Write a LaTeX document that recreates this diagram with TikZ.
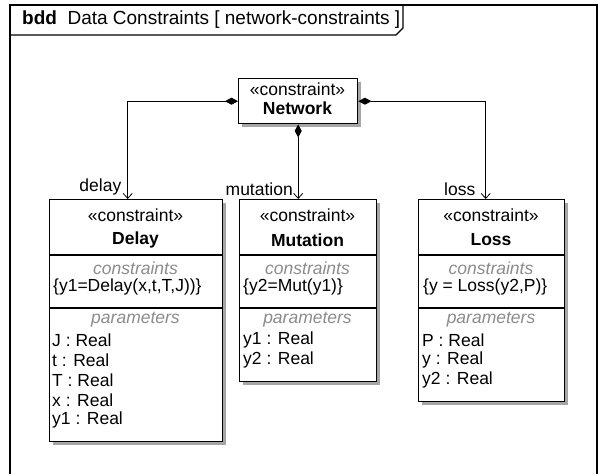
\documentclass[tikz,border=0pt]{standalone}
\usepackage{fontspec}
\setmainfont{Liberation Sans}
\usetikzlibrary{arrows.meta,positioning,shadows}

\tikzset{
  block/.style={draw, line width=1.4pt, fill=white, inner sep=0pt, anchor=north west,
    drop shadow={shadow xshift=3pt, shadow yshift=-3pt, fill=black!35, opacity=1}},
  compart/.style={line width=1.2pt},
  head/.style={font=\fontsize{17.5}{20}\selectfont\itshape, text=black!45},
  item/.style={anchor=west, inner sep=0pt},
  comp/.style={line width=0.8pt, {Diamond[length=13pt,width=7pt]}-{Straight Barb[length=5pt,width=9pt]}},
}

\begin{document}
\begin{tikzpicture}[x=1pt,y=-1pt, every node/.style={font=\fontsize{17.5}{20}\selectfont}]
\useasboundingbox (0,0) rectangle (601,474);

% frame
\draw[line width=1.2pt] (10,474) -- (10,5) -- (597,5) -- (597,474);
\draw[line width=1.2pt] (10,35) -- (396,35) -- (403,28) -- (403,5);
\node[anchor=west, inner sep=0pt, font=\fontsize{19}{20}\selectfont] (title) at (22,20) {\textbf{bdd}\ \ Data Constraints [ network-constraints ]};

% network
\node[block, minimum width=119pt, minimum height=45pt] (net) at (238,78) {};
\node (netst) at (297.5,89) {«constraint»};
\node[font=\fontsize{17.5}{20}\selectfont\bfseries] (netname) at (297.5,108) {Network};

% delay
\node[block, minimum width=173pt, minimum height=242pt] (delay) at (49,199) {};
\node (delayst) at (135.5,215) {«constraint»};
\node[font=\fontsize{17.5}{20}\selectfont\bfseries] (delayname) at (135.5,240) {Delay};
\draw[compart] (delay.west |- 0,255) -- (delay.east |- 0,255);
\node[head] (delayc) at (135.5,268) {constraints};
\node[item] (delayf) at (53,287) {\{y1=Delay(x,t,T,J))\}};
\draw[compart] (delay.west |- 0,308) -- (delay.east |- 0,308);
\node[head] (delayp) at (135.5,320) {parameters};
\node[item] (delayj) at (52,340) {J : Real};
\node[item] (delayt) at (52,360) {t : Real};
\node[item] (delayT) at (52,380) {T : Real};
\node[item] (delayx) at (52,400) {x : Real};
\node[item] (delayy) at (52,420) {y1 : Real};

% mutation
\node[block, minimum width=137pt, minimum height=182pt] (mut) at (239,199) {};
\node (mutst) at (307.5,215) {«constraint»};
\node[font=\fontsize{17.5}{20}\selectfont\bfseries] (mutname) at (307.5,240) {Mutation};
\draw[compart] (mut.west |- 0,255) -- (mut.east |- 0,255);
\node[head] (mutc) at (307.5,268) {constraints};
\node[item] (mutf) at (243,287) {\{y2=Mut(y1)\}};
\draw[compart] (mut.west |- 0,308) -- (mut.east |- 0,308);
\node[head] (mutp) at (307.5,320) {parameters};
\node[item] (muty1) at (243,340) {y1 : Real};
\node[item] (muty2) at (243,360) {y2 : Real};

% loss
\node[block, minimum width=146pt, minimum height=202pt] (loss) at (418,199) {};
\node (lossst) at (491,215) {«constraint»};
\node[font=\fontsize{17.5}{20}\selectfont\bfseries] (lossname) at (491,240) {Loss};
\draw[compart] (loss.west |- 0,255) -- (loss.east |- 0,255);
\node[head] (lossc) at (491,268) {constraints};
\node[item] (lossf) at (423,287) {\{y = Loss(y2,P)\}};
\draw[compart] (loss.west |- 0,308) -- (loss.east |- 0,308);
\node[head] (lossp) at (491,320) {parameters};
\node[item] (lossP) at (422,340) {P : Real};
\node[item] (lossy) at (422,360) {y : Real};
\node[item] (lossy2) at (422,380) {y2 : Real};

% connectors
\draw[comp] (net.west) -| ([xshift=-8.5pt]delay.north) node[above left, inner xsep=6pt, inner ysep=3pt] {delay};
\draw[comp] (net.south) -- (net.south |- mut.north) node[above left, inner xsep=5pt, inner ysep=3pt] {mutation};
\draw[comp] (net.east) -| ([xshift=-6pt]loss.north) node[above left, inner xsep=10pt, inner ysep=3pt] {loss};

\end{tikzpicture}
\end{document}
